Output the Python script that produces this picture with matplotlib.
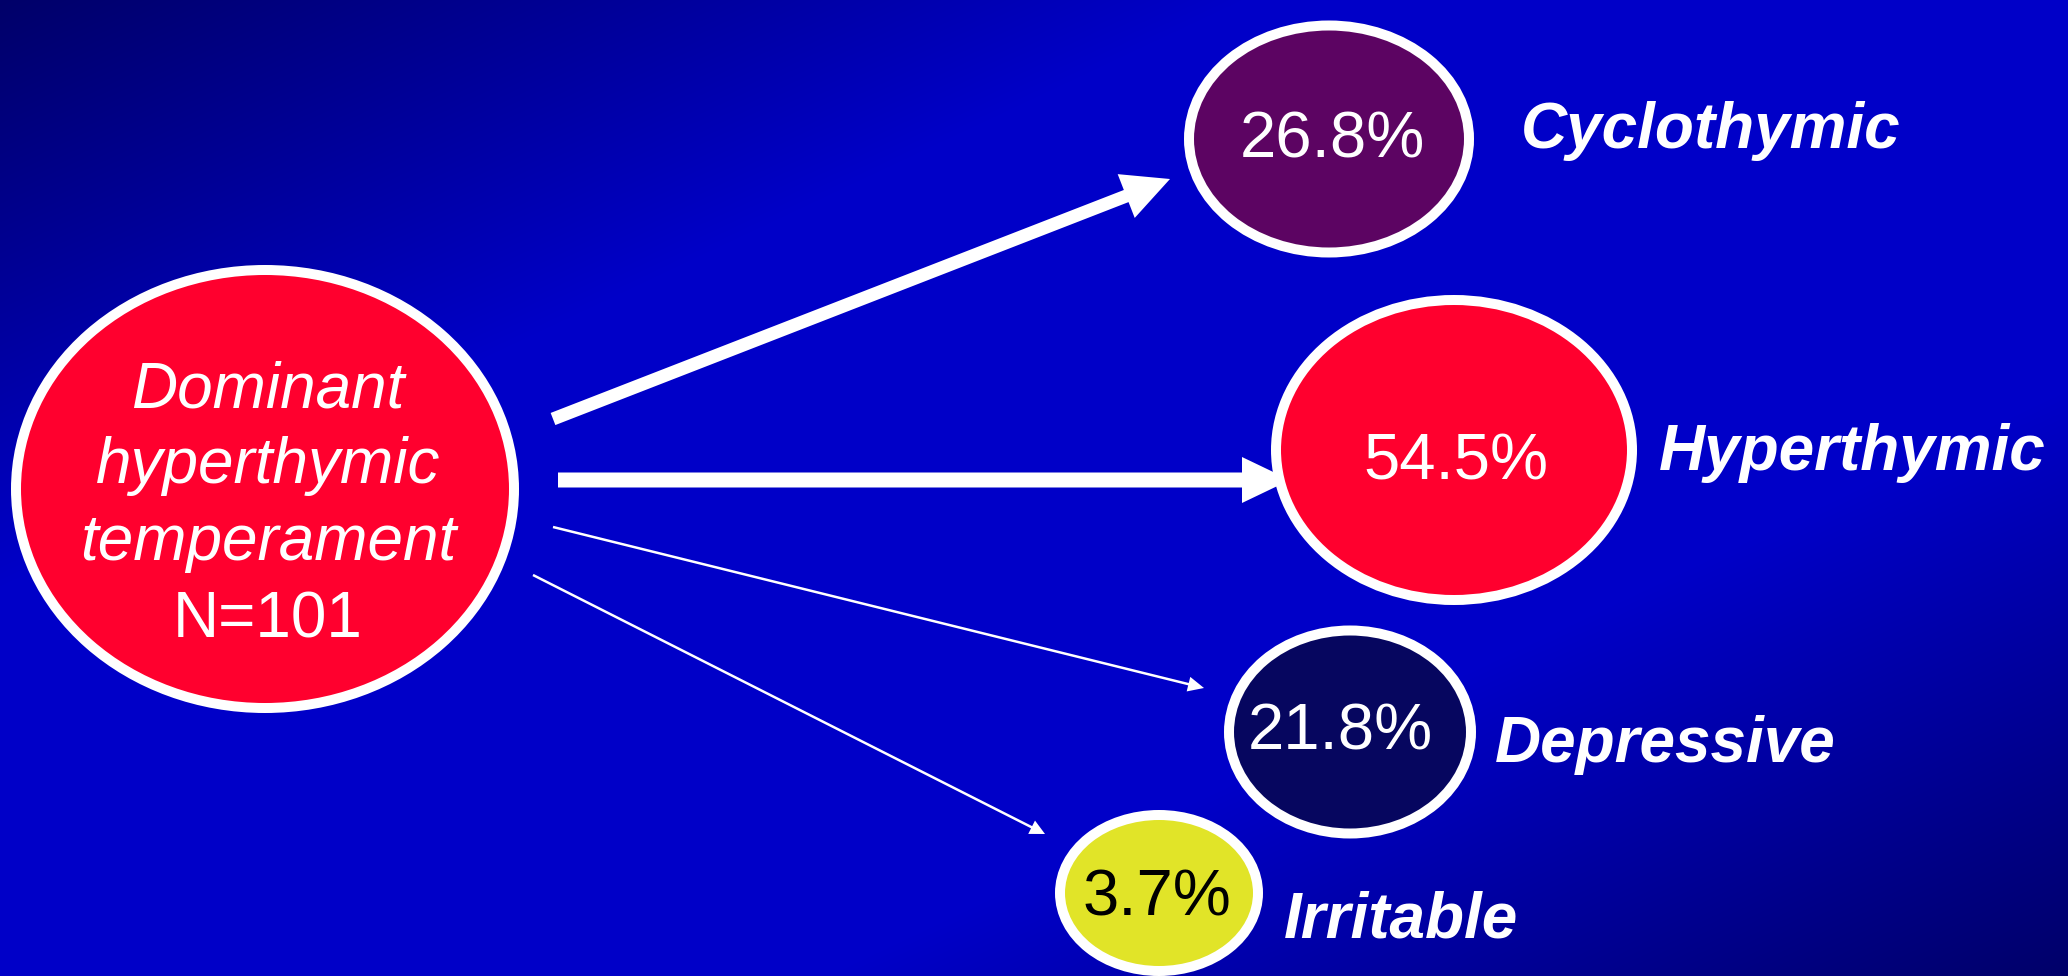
import numpy as np
import matplotlib
matplotlib.use("Agg")
import matplotlib.pyplot as plt
from matplotlib.patches import Ellipse, FancyArrow

W, H = 2068, 976

# outcome groups
labels = ["Cyclothymic", "Hyperthymic", "Depressive", "Irritable"]
percents = [26.8, 54.5, 21.8, 3.7]
fills = ["#5C0462", "#FF002E", "#06065F", "#E1E428"]
pct_colors = ["white", "white", "white", "black"]

source_lines = ["Dominant", "hyperthymic", "temperament", "N=101"]

# layout (pixels, y down)
src_center = (265, 489)
src_size = (498, 438)
node_centers = [(1329, 139), (1454, 450), (1350, 732), (1159, 893)]
node_sizes = [(280, 227), (356, 300), (242, 203), (198, 156)]
pct_baselines = [158, 480, 750, 915]
pct_x = [1332, 1456, 1340, 1157]
label_pos = [(1521, 148), (1659, 470), (1495, 762), (1284, 938)]
arrow_tails = [(553, 419), (558, 480), (553, 527), (533, 575)]
arrow_tips = [(1170, 179), (1290, 480), (1204, 688), (1045, 834)]
arrow_widths = [13, 15, 2.5, 2.5]
head_widths = [47, 46, 15, 15]
head_lengths = [47, 48, 16, 15]

fig = plt.figure(figsize=(W / 100, H / 100), dpi=100)
ax = fig.add_axes([0, 0, 1, 1])
ax.set_xlim(0, W)
ax.set_ylim(H, 0)
ax.axis("off")

# diagonal blue background, dark in the top-left and bottom-right corners
yy, xx = np.mgrid[0:H, 0:W]
t = (xx / W + yy / H) / 2
s = np.clip((1 - np.abs(2 * t - 1)) / 0.6, 0, 1)
bg = np.zeros((H, W, 3))
bg[..., 2] = (105 + 95 * s) / 255
ax.imshow(bg, extent=(0, W, H, 0), aspect="auto", interpolation="bilinear", zorder=0)

font = "Liberation Sans"

# arrows
for (x0, y0), (x1, y1), w, hw, hl in zip(arrow_tails, arrow_tips, arrow_widths,
                                          head_widths, head_lengths):
    ax.add_patch(FancyArrow(x0, y0, x1 - x0, y1 - y0, width=w, head_width=hw,
                            head_length=hl, length_includes_head=True,
                            color="white", lw=0, zorder=2))

# source node
ax.add_patch(Ellipse(src_center, *src_size, facecolor="#FF002E", edgecolor="white",
                     lw=7.2, zorder=3))
for i, (line, yb) in enumerate(zip(source_lines, [407, 483, 560, 637])):
    ax.text(268, yb, line, ha="center", va="baseline", fontsize=46, color="white",
            family=font, style="normal" if i == 3 else "italic", zorder=4)

# outcome nodes
for c, sz, fc, p, pc, px, pb, lab, lp in zip(node_centers, node_sizes, fills, percents,
                                             pct_colors, pct_x, pct_baselines, labels,
                                             label_pos):
    ax.add_patch(Ellipse(c, *sz, facecolor=fc, edgecolor="white", lw=7.2, zorder=3))
    ax.text(px, pb, f"{p}%", ha="center", va="baseline", fontsize=47, color=pc,
            family=font, zorder=4)
    ax.text(lp[0], lp[1], lab, ha="left", va="baseline", fontsize=46, color="white",
            family=font, weight="bold", style="italic", zorder=4)

fig.savefig("out.png", dpi=100)
